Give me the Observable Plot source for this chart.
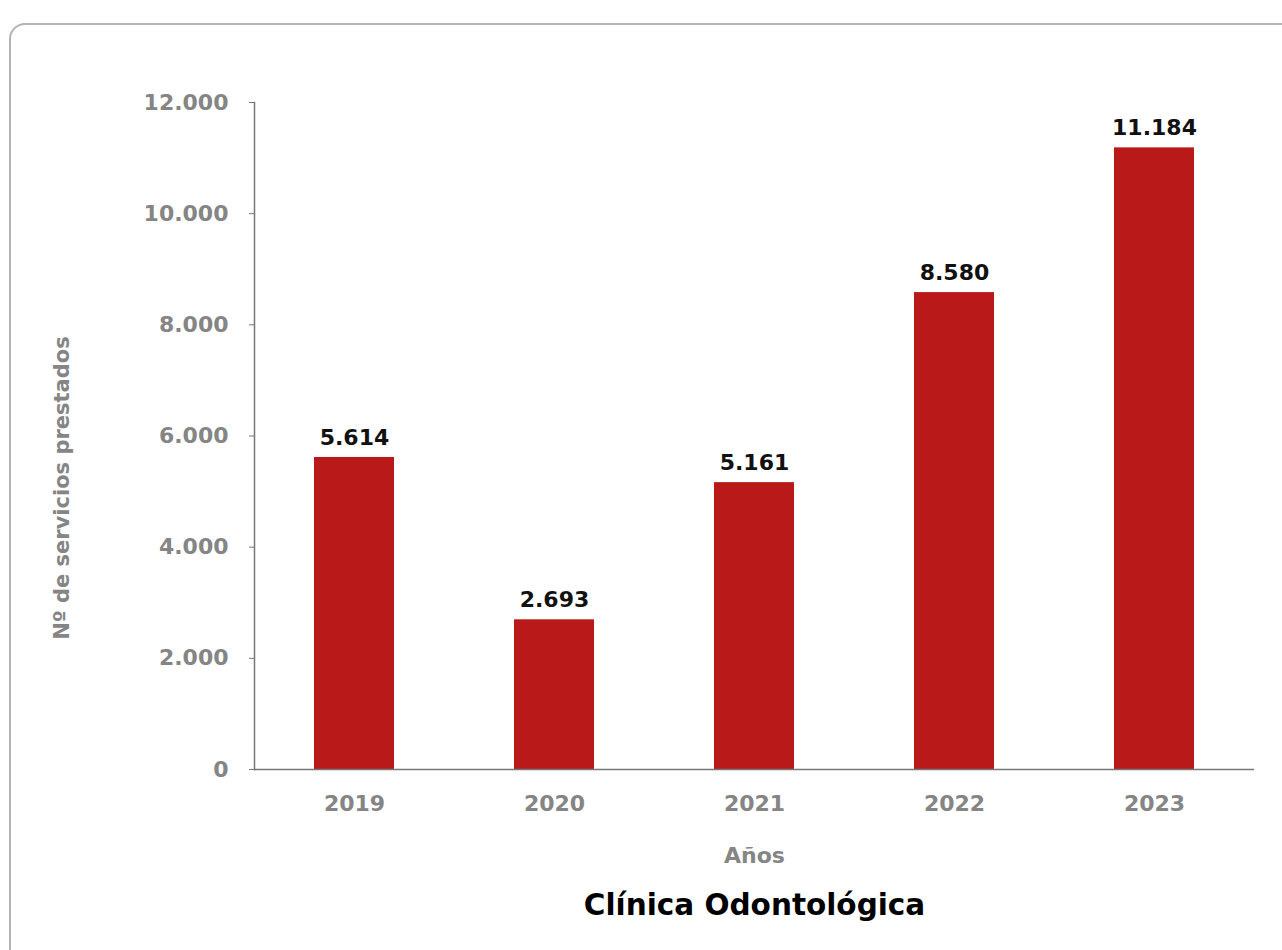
<!DOCTYPE html>
<html>
<head>
<meta charset="utf-8">
<script src="https://cdn.jsdelivr.net/npm/d3@7"></script>
<script src="https://cdn.jsdelivr.net/npm/@observablehq/plot@0.6"></script>
<style>
  html, body { margin: 0; padding: 0; background: #fff; overflow: hidden; }
  #card {
    position: absolute; left: 9px; top: 23px; width: 1300px; height: 960px;
    border: 2px solid #b3b3b3; border-radius: 16px; box-sizing: border-box;
  }
  #chart { position: absolute; left: 0; top: 0; }
</style>
</head>
<body>
<div id="card"></div>
<div id="chart"></div>
<script>
const years = ["2019", "2020", "2021", "2022", "2023"];
const services = [5614, 2693, 5161, 8580, 11184];
const yTicks = [0, 2000, 4000, 6000, 8000, 10000, 12000];
const yLabel = "Nº de servicios prestados";
const xLabel = "Años";
const title = "Clínica Odontológica";

const data = years.map((y, i) => ({year: y, value: services[i]}));
const fmt = d3.formatLocale({decimal: ",", thousands: ".", grouping: [3], currency: ["", ""]}).format(",");
const FONT = "DejaVu Sans, sans-serif";
const GRAY = "#858585";

const chart = Plot.plot({
  width: 1282,
  height: 950,
  marginLeft: 254,
  marginRight: 28,
  marginTop: 102,
  marginBottom: 181,
  style: {fontFamily: FONT, background: "transparent"},
  x: {domain: years, paddingInner: 0.6, paddingOuter: 0.3, label: null},
  y: {domain: [0, 12000], label: null},
  marks: [
    Plot.barY(data, {x: "year", y: "value", fill: "#b91919"}),
    Plot.frame({anchor: "left", stroke: "#777", strokeWidth: 1.5}),
    Plot.ruleY([0], {stroke: "#777", strokeWidth: 1.5}),
    Plot.axisY({ticks: yTicks, tickFormat: fmt, tickSize: 5, tickPadding: 21, fontSize: 22, fontWeight: "bold", color: GRAY, stroke: "#777", label: null}),
    Plot.axisX({tickSize: 0, tickPadding: 26, fontSize: 22, fontWeight: "bold", color: GRAY, label: null}),
    Plot.text(data, {x: "year", y: "value", text: d => fmt(d.value), dy: -20, fontSize: 22, fontWeight: "bold", fill: "#111"}),
    Plot.text([xLabel], {frameAnchor: "bottom", dy: 93, fontSize: 22, fontWeight: "bold", fill: GRAY}),
    Plot.text([yLabel], {frameAnchor: "left", textAnchor: "middle", rotate: -90, dx: -192, dy: 52, fontSize: 21, fontWeight: "bold", fill: GRAY}),
    Plot.text([title], {frameAnchor: "bottom", dy: 145, fontSize: 29.5, fontWeight: "bold", fill: "#000"})
  ]
});
document.getElementById("chart").appendChild(chart);
</script>
</body>
</html>
